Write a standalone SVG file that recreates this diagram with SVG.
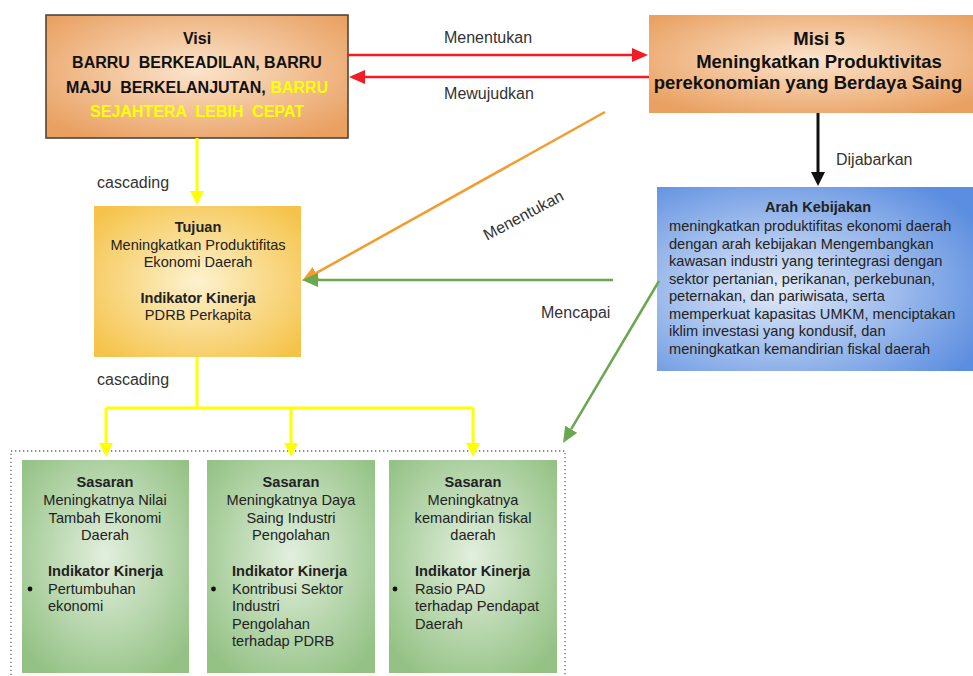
<svg xmlns="http://www.w3.org/2000/svg" width="973" height="676" viewBox="0 0 973 676">
<style>
.t{font-family:"Liberation Sans",Arial,sans-serif;fill:#222}
.b{font-weight:bold}
.v{font-size:16px;font-weight:bold;fill:#111}
.m{font-size:18.5px;font-weight:bold;fill:#111}
.s{font-size:14.6px}
.l{font-size:16px;fill:#333}
.yel{fill:#ffff00}
.c{text-anchor:middle}
.conn{fill:none}
.ye{stroke:#ffff00;stroke-width:3}
.rd{stroke:#f21c24;stroke-width:2.5}
.or{stroke:#f59b2b;stroke-width:2.5}
.gr{stroke:#6aa84f;stroke-width:2.5}
.bk{stroke:#111;stroke-width:3}
</style>
<defs>
<radialGradient id="gOr" cx="50%" cy="45%" r="65%"><stop offset="0" stop-color="#fbe4cc"/><stop offset="1" stop-color="#e9a061"/></radialGradient>
<radialGradient id="gBl" cx="38%" cy="55%" r="72%"><stop offset="0" stop-color="#e3ebf8"/><stop offset="1" stop-color="#5b8de0"/></radialGradient>
<radialGradient id="gYe" cx="50%" cy="50%" r="65%"><stop offset="0" stop-color="#fdf2cf"/><stop offset="1" stop-color="#f5c34a"/></radialGradient>
<radialGradient id="gGr" cx="50%" cy="45%" r="65%"><stop offset="0" stop-color="#e2efdd"/><stop offset="1" stop-color="#94c285"/></radialGradient>
<marker id="aY" markerUnits="userSpaceOnUse" markerWidth="14" markerHeight="14" refX="0" refY="7" orient="auto"><path d="M0,0 L14,7 L0,14 z" fill="#ffff00"/></marker>
<marker id="aR" markerUnits="userSpaceOnUse" markerWidth="16" markerHeight="14" refX="0" refY="7" orient="auto"><path d="M0,0 L16,7 L0,14 z" fill="#f21c24"/></marker>
<marker id="aO" markerUnits="userSpaceOnUse" markerWidth="16" markerHeight="14" refX="0" refY="7" orient="auto"><path d="M0,0 L16,7 L0,14 z" fill="#f59b2b"/></marker>
<marker id="aG" markerUnits="userSpaceOnUse" markerWidth="16" markerHeight="14" refX="0" refY="7" orient="auto"><path d="M0,0 L16,7 L0,14 z" fill="#6aa84f"/></marker>
<marker id="aB" markerUnits="userSpaceOnUse" markerWidth="14" markerHeight="14" refX="0" refY="7" orient="auto"><path d="M0,0 L14,7 L0,14 z" fill="#111"/></marker>
</defs>
<rect width="973" height="676" fill="#fff"/>

<g id="visi">
<rect x="46" y="15" width="302" height="123" fill="url(#gOr)" stroke="#4a3b30" stroke-width="1.5"/>
<text class="t v c" x="197" y="44">Visi</text>
<text class="t v c" x="197" y="68" xml:space="preserve">BARRU  BERKEADILAN, BARRU</text>
<text class="t v c" x="197" y="93" xml:space="preserve">MAJU  BERKELANJUTAN, <tspan class="yel">BARRU</tspan></text>
<text class="t v c yel" x="197" y="117" xml:space="preserve">SEJAHTERA  LEBIH  CEPAT</text>
</g>

<g id="misi">
<rect x="649" y="15" width="330" height="98" fill="url(#gOr)"/>
<text class="t m c" x="819" y="45">Misi 5</text>
<text class="t m c" x="819" y="67.5">Meningkatkan Produktivitas</text>
<text class="t m c" x="808" y="89">perekonomian yang Berdaya Saing</text>
</g>

<g id="arah">
<rect x="657" y="187" width="320" height="184" fill="url(#gBl)"/>
<text class="t s b c" x="818" y="212">Arah Kebijakan</text>
<text class="t s" x="669" y="231">meningkatkan produktifitas ekonomi daerah</text>
<text class="t s" x="669" y="248.5">dengan arah kebijakan Mengembangkan</text>
<text class="t s" x="669" y="266">kawasan industri yang terintegrasi dengan</text>
<text class="t s" x="669" y="283.5">sektor pertanian, perikanan, perkebunan,</text>
<text class="t s" x="669" y="301">peternakan, dan pariwisata, serta</text>
<text class="t s" x="669" y="318.5">memperkuat kapasitas UMKM, menciptakan</text>
<text class="t s" x="669" y="336">iklim investasi yang kondusif, dan</text>
<text class="t s" x="669" y="353.5">meningkatkan kemandirian fiskal daerah</text>
</g>

<g id="tujuan">
<rect x="94" y="206" width="207" height="151" fill="url(#gYe)"/>
<text class="t s b c" x="198" y="232">Tujuan</text>
<text class="t s c" x="198" y="250">Meningkatkan Produktifitas</text>
<text class="t s c" x="198" y="267">Ekonomi Daerah</text>
<text class="t s b c" x="198" y="303">Indikator Kinerja</text>
<text class="t s c" x="198" y="320">PDRB Perkapita</text>
</g>

<g id="sasaran-frame">
<rect x="11" y="451" width="554" height="232" fill="none" stroke="#666" stroke-width="1.3" stroke-dasharray="1.3 2.7"/>
</g>

<g id="sasaran1">
<rect x="22" y="460" width="167" height="213" fill="url(#gGr)"/>
<text class="t s b c" x="105" y="487">Sasaran</text>
<text class="t s c" x="105" y="504.5">Meningkatnya Nilai</text>
<text class="t s c" x="105" y="522.5">Tambah Ekonomi</text>
<text class="t s c" x="105" y="540">Daerah</text>
<text class="t s b" x="48" y="576">Indikator Kinerja</text>
<circle cx="30" cy="589" r="2.4" fill="#111"/>
<text class="t s" x="48" y="593.5">Pertumbuhan</text>
<text class="t s" x="48" y="611">ekonomi</text>
</g>

<g id="sasaran2">
<rect x="207" y="460" width="168" height="213" fill="url(#gGr)"/>
<text class="t s b c" x="291" y="487">Sasaran</text>
<text class="t s c" x="291" y="504.5">Meningkatnya Daya</text>
<text class="t s c" x="291" y="522.5">Saing Industri</text>
<text class="t s c" x="291" y="540">Pengolahan</text>
<text class="t s b" x="232" y="576">Indikator Kinerja</text>
<circle cx="213.5" cy="589" r="2.4" fill="#111"/>
<text class="t s" x="232" y="593.5">Kontribusi Sektor</text>
<text class="t s" x="232" y="611">Industri</text>
<text class="t s" x="232" y="628.5">Pengolahan</text>
<text class="t s" x="232" y="646">terhadap PDRB</text>
</g>

<g id="sasaran3">
<rect x="389" y="460" width="168" height="213" fill="url(#gGr)"/>
<text class="t s b c" x="473" y="487">Sasaran</text>
<text class="t s c" x="473" y="504.5">Meningkatnya</text>
<text class="t s c" x="473" y="522.5">kemandirian fiskal</text>
<text class="t s c" x="473" y="540">daerah</text>
<text class="t s b" x="415" y="576">Indikator Kinerja</text>
<circle cx="395" cy="589" r="2.4" fill="#111"/>
<text class="t s" x="415" y="593.5">Rasio PAD</text>
<text class="t s" x="415" y="611">terhadap Pendapat</text>
<text class="t s" x="415" y="628.5">Daerah</text>
</g>

<g id="connectors">
<path class="conn ye" d="M197,138 V191" marker-end="url(#aY)"/>
<path class="conn ye" d="M197,357 V408 M106,408 H473"/>
<path class="conn ye" d="M106,408 V443" marker-end="url(#aY)"/>
<path class="conn ye" d="M291,408 V443" marker-end="url(#aY)"/>
<path class="conn ye" d="M473,408 V443" marker-end="url(#aY)"/>
<path class="conn rd" d="M348,55 H632" marker-end="url(#aR)"/>
<path class="conn rd" d="M649,77 H365" marker-end="url(#aR)"/>
<path class="conn or" d="M605,112 L316,273.2" marker-end="url(#aO)"/>
<path class="conn gr" d="M613,280 H318" marker-end="url(#aG)"/>
<path class="conn gr" d="M659,281 L571.2,429.2" marker-end="url(#aG)"/>
<path class="conn bk" d="M818,113 V172" marker-end="url(#aB)"/>
<text class="t l" x="97" y="188">cascading</text>
<text class="t l" x="97" y="385">cascading</text>
<text class="t l c" x="488" y="43">Menentukan</text>
<text class="t l c" x="489" y="99">Mewujudkan</text>
<text class="t l" x="836" y="165">Dijabarkan</text>
<text class="t l" x="541" y="318">Mencapai</text>
<text class="t l c" x="526" y="220" transform="rotate(-28 526 220)">Menentukan</text>
</g>
</svg>
